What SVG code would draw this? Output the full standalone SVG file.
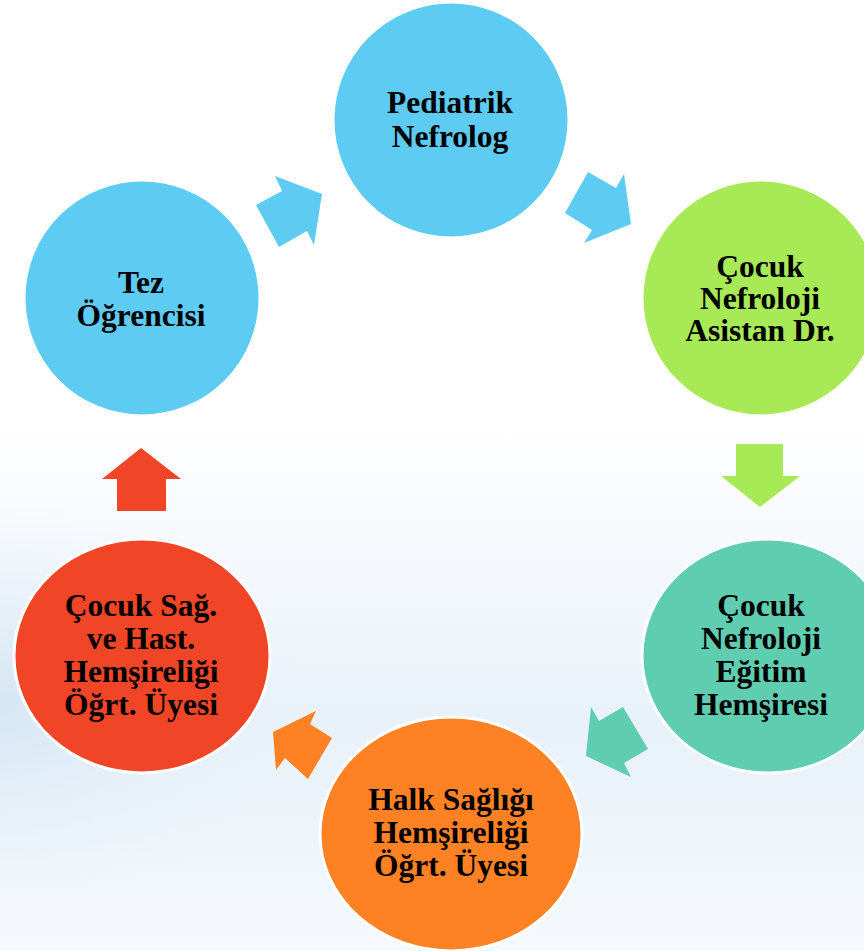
<svg xmlns="http://www.w3.org/2000/svg" width="864" height="951" viewBox="0 0 864 951">
<defs>
<linearGradient id="bg" x1="0" y1="0" x2="0" y2="1">
<stop offset="0" stop-color="#ffffff"/>
<stop offset="0.45" stop-color="#ffffff"/>
<stop offset="0.62" stop-color="#f2f7fc"/>
<stop offset="0.76" stop-color="#e8f1f9"/>
<stop offset="0.88" stop-color="#eef5fb"/>
<stop offset="1" stop-color="#f6f9fd"/>
</linearGradient>
<radialGradient id="lg" cx="0" cy="0.74" r="0.35" gradientTransform="translate(0,0.74) scale(1,0.6) translate(0,-0.74)">
<stop offset="0" stop-color="#d3e5f4" stop-opacity="0.9"/>
<stop offset="1" stop-color="#e6f0f9" stop-opacity="0"/>
</radialGradient>
<style>
.node ellipse{stroke:#ffffff;stroke-width:3}
.node text{font-family:"Liberation Serif","Times New Roman",serif;font-weight:bold;font-size:31.5px;fill:#000000;text-anchor:middle}
.blue{fill:#5ecbf3}
.green{fill:#a8e956}
.teal{fill:#5ecdb0}
.orange{fill:#fe8124}
.red{fill:#f04526}
</style>
</defs>
<rect width="864" height="951" fill="url(#bg)"/>
<rect width="864" height="951" fill="url(#lg)"/>

<g id="connectors">
<polygon class="blue" points="256,205 282,191 275,176 322,194 314,245 307,231 279,247"/>
<polygon class="blue" points="588,172 616,188 624,174 631,224 584,243 592,230 565,213"/>
<polygon class="green" points="736,444 783,444 783,476 800,476 760,507 721,476 736,476"/>
<polygon class="teal" points="591,707 599,721 623,707 648,749 624,763 631,777 586,756"/>
<polygon class="orange" points="316,711 310,724 332,738 308,779 285,758 276,770 273,732"/>
<polygon class="red" points="141,448 181,479 166,479 166,511 117,511 117,479 102,479"/>
</g>

<g id="pediatrik" class="node">
<ellipse class="blue" cx="451" cy="120" rx="118" ry="118"/>
<text x="450" y="113">Pediatrik</text>
<text x="450" y="147">Nefrolog</text>
</g>

<g id="asistan" class="node">
<ellipse class="green" cx="761" cy="298" rx="119" ry="118"/>
<text x="760" y="277">Çocuk</text>
<text x="760" y="309">Nefroloji</text>
<text x="760" y="341">Asistan Dr.</text>
</g>

<g id="egitim" class="node">
<ellipse class="teal" cx="768" cy="656" rx="126" ry="117"/>
<text x="761" y="616">Çocuk</text>
<text x="761" y="649">Nefroloji</text>
<text x="761" y="682">Eğitim</text>
<text x="761" y="715">Hemşiresi</text>
</g>

<g id="halk" class="node">
<ellipse class="orange" cx="451" cy="834" rx="131" ry="117"/>
<text x="451" y="810">Halk Sağlığı</text>
<text x="451" y="843">Hemşireliği</text>
<text x="451" y="876">Öğrt. Üyesi</text>
</g>

<g id="cocuksag" class="node">
<ellipse class="red" cx="142" cy="656" rx="128" ry="117"/>
<text x="141" y="616">Çocuk Sağ.</text>
<text x="141" y="649">ve Hast.</text>
<text x="141" y="682">Hemşireliği</text>
<text x="141" y="715">Öğrt. Üyesi</text>
</g>

<g id="tez" class="node">
<ellipse class="blue" cx="142" cy="298" rx="118" ry="118"/>
<text x="141" y="293">Tez</text>
<text x="141" y="326">Öğrencisi</text>
</g>
</svg>
